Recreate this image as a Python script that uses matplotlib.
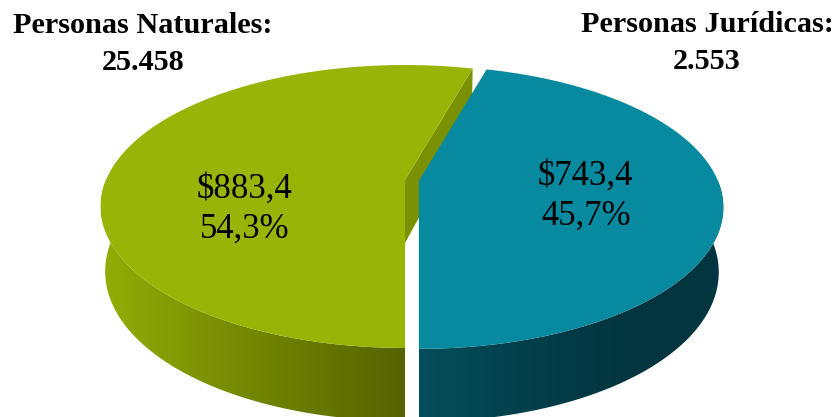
import numpy as np
import matplotlib.pyplot as plt
from matplotlib.patches import Polygon
from matplotlib.colors import LinearSegmentedColormap

# data
segments = ['Personas Jurídicas', 'Personas Naturales']
client_counts = ['2.553', '25.458']
amounts = [743.4, 883.4]   # saldo, miles de millones

# styles
top_colors = ['#0789A0', '#98B406']
cut_colors = ['#055F70', '#7A9104']
side_colors = [['#054E5C', '#03404B', '#023540', '#023641'],
               ['#93AE06', '#7D9304', '#687A01', '#566300']]
explode = [0.047, 0.0]
label_uv = [(0.54, -0.17), (-0.51, -0.26)]   # label spot on the disc
header_xy = [(707, 32, 69), (143, 33, 70)]

# projection of the tilted disc (a bit of perspective)
CX, CY = 405, 180
RX, RY = 299, 136.5
PERSP = 0.1873


def project(u, w, bottom=False, shift=(0, 0)):
    u = np.asarray(u, float)
    w = np.asarray(w, float)
    f = 1 + PERSP * w
    x = CX + RX * u / f
    y = CY - RY * w / f
    if bottom:
        x = CX + (x - CX) * 0.985
        y = y + 63 - 10 * w
    return x + shift[0], y + shift[1]


fig = plt.figure(figsize=(8.38, 4.17), dpi=100)
ax = fig.add_axes([0, 0, 1, 1])

total = sum(amounts)
wedges = []
start = 270.0
for i, val in enumerate(amounts):
    span = 360.0 * val / total
    wedges.append((i, start, start + span))
    start += span

# far wedges first
wedges.sort(key=lambda t: -np.sin(np.radians((t[1] + t[2]) / 2)))

for i, a0, a1 in wedges:
    mid = np.radians((a0 + a1) / 2)
    sh = (RX * explode[i] * np.cos(mid), -RY * explode[i] * np.sin(mid))

    # outer wall, only the front half can be seen
    for k in range(-1, 3):
        lo = max(a0, 180 + 360 * k)
        hi = min(a1, 360 + 360 * k)
        if hi <= lo:
            continue
        th = np.radians(np.linspace(lo, hi, 120))
        xt, yt = project(np.cos(th), np.sin(th), shift=sh)
        xb, yb = project(np.cos(th), np.sin(th), bottom=True, shift=sh)
        pts = np.column_stack([np.r_[xt, xb[::-1]], np.r_[yt, yb[::-1]]])
        wall = Polygon(pts, closed=True, facecolor='none', linewidth=0)
        ax.add_patch(wall)
        cmap = LinearSegmentedColormap.from_list('side%d' % i, side_colors[i])
        grad = np.linspace(0, 1, 256).reshape(1, -1)
        im = ax.imshow(grad, cmap=cmap, aspect='auto', interpolation='bilinear',
                       extent=(pts[:, 0].min(), pts[:, 0].max(), pts[:, 1].max(), pts[:, 1].min()))
        im.set_clip_path(wall)

    # cut faces turned toward the viewer
    for ang, visible in ((a0, np.cos(np.radians(a0)) > 1e-9),
                         (a1, np.cos(np.radians(a1)) < -1e-9)):
        if not visible:
            continue
        r = np.radians(ang)
        u = np.array([0, np.cos(r)])
        w = np.array([0, np.sin(r)])
        xt, yt = project(u, w, shift=sh)
        xb, yb = project(u, w, bottom=True, shift=sh)
        pts = np.column_stack([np.r_[xt, xb[::-1]], np.r_[yt, yb[::-1]]])
        ax.add_patch(Polygon(pts, closed=True, facecolor=cut_colors[i], linewidth=0))

    # top face
    th = np.radians(np.linspace(a0, a1, 240))
    xt, yt = project(np.r_[0, np.cos(th)], np.r_[0, np.sin(th)], shift=sh)
    ax.add_patch(Polygon(np.column_stack([xt, yt]), closed=True,
                         facecolor=top_colors[i], linewidth=0))

    # value label
    lx, ly = project(label_uv[i][0], label_uv[i][1], shift=sh)
    pct = '%.1f%%' % (100 * amounts[i] / total)
    amt = '$%.1f' % amounts[i]
    ax.text(lx, ly - 20, amt.replace('.', ','), ha='center', va='baseline',
            fontsize=25, family=['Liberation Serif', 'DejaVu Serif'], color='black')
    ax.text(lx, ly + 20, pct.replace('.', ','), ha='center', va='baseline',
            fontsize=25, family=['Liberation Serif', 'DejaVu Serif'], color='black')

# headers with number of clients
for i, name in enumerate(segments):
    hx, hy1, hy2 = header_xy[i]
    ax.text(hx, hy1, name + ':', ha='center', va='baseline', fontsize=21.8,
            fontweight='bold', family=['Liberation Serif', 'DejaVu Serif'])
    ax.text(hx, hy2, client_counts[i], ha='center', va='baseline', fontsize=21.8,
            fontweight='bold', family=['Liberation Serif', 'DejaVu Serif'])

ax.set_xlim(0, 838)
ax.set_ylim(417, 0)
ax.axis('off')

fig.savefig('out.png', dpi=100)
